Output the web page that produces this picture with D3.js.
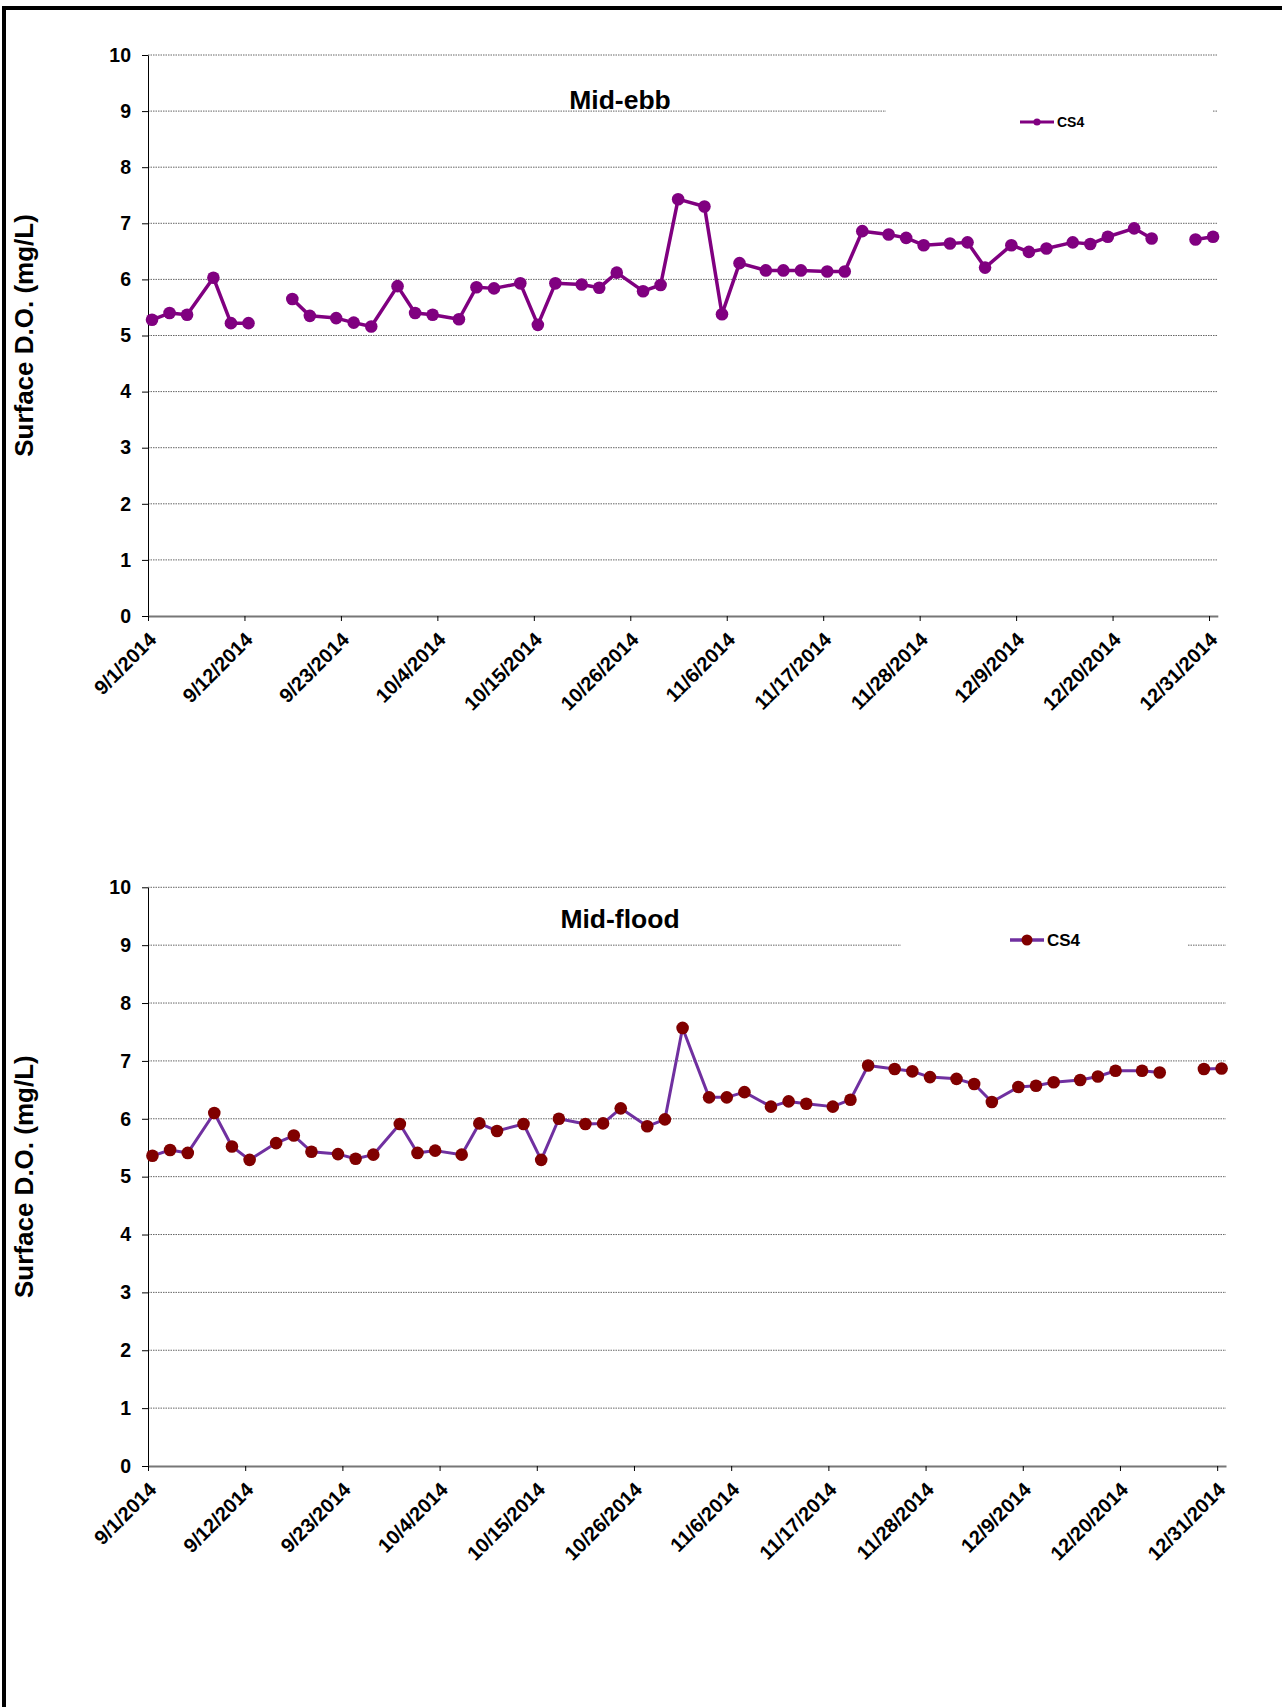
<!DOCTYPE html>
<html>
<head>
<meta charset="utf-8">
<script src="https://cdn.jsdelivr.net/npm/d3@7"></script>
<style>
  body { margin: 0; background: #fff; }
  svg text { font-family: "Liberation Sans", Arial, sans-serif; font-weight: bold; fill: #000; }
</style>
</head>
<body>
<div id="chart"></div>
<script>
// sampling days (Mon/Wed/Fri), 2014
var sampleDates = ["9/1", "9/3", "9/5", "9/8", "9/10", "9/12", "9/15", "9/17", "9/19", "9/22", "9/24", "9/26",
  "9/29", "10/1", "10/3", "10/6", "10/8", "10/10", "10/13", "10/15", "10/17", "10/20", "10/22", "10/24",
  "10/27", "10/29", "10/31", "11/3", "11/5", "11/7", "11/10", "11/12", "11/14", "11/17", "11/19", "11/21",
  "11/24", "11/26", "11/28", "12/1", "12/3", "12/5", "12/8", "12/10", "12/12", "12/15", "12/17", "12/19",
  "12/22", "12/24", "12/26", "12/29", "12/31"];

// surface D.O. (mg/L), null = no sample
var ebbValues = [5.28, 5.40, 5.37, 6.03, 5.22, 5.22, null, 5.65, 5.35, 5.31, 5.23, 5.16,
  5.88, 5.40, 5.37, 5.29, 5.86, 5.84, 5.93, 5.19, 5.93, 5.91, 5.85, 6.12,
  5.79, 5.90, 7.43, 7.30, 5.38, 6.29, 6.16, 6.16, 6.16, 6.14, 6.14, 6.86,
  6.80, 6.74, 6.61, 6.64, 6.66, 6.21, 6.61, 6.49, 6.55, 6.66, 6.63, 6.76,
  6.91, 6.73, null, 6.71, 6.76];

var floodValues = [5.36, 5.46, 5.41, 6.10, 5.52, 5.29, 5.58, 5.71, 5.43, 5.39, 5.31, 5.38,
  5.91, 5.41, 5.45, 5.38, 5.92, 5.79, 5.91, 5.29, 6.00, 5.91, 5.92, 6.18,
  5.87, 5.99, 7.57, 6.37, 6.37, 6.46, 6.21, 6.30, 6.26, 6.21, 6.33, 6.92,
  6.86, 6.82, 6.72, 6.69, 6.60, 6.29, 6.55, 6.57, 6.63, 6.67, 6.73, 6.83,
  6.83, 6.80, null, 6.86, 6.87];

// approx. hour of day of the mid-ebb / mid-flood samples
var ebbHour = 11;
var floodHour = 12;

var xTickLabels = ["9/1/2014", "9/12/2014", "9/23/2014", "10/4/2014", "10/15/2014", "10/26/2014",
  "11/6/2014", "11/17/2014", "11/28/2014", "12/9/2014", "12/20/2014", "12/31/2014"];
var yTicks = [0, 1, 2, 3, 4, 5, 6, 7, 8, 9, 10];
var xDomain = ["9/1/2014", "1/1/2015"];

var seriesName = "CS4";
var yTitle = "Surface D.O. (mg/L)";

var svgWidth = 1282;
var svgHeight = 1707;

var parseLabel = d3.timeParse("%-m/%-d/%Y");

var svg = d3.select("#chart")
  .append("svg")
  .attr("width", svgWidth)
  .attr("height", svgHeight);

// page frame (top + left edges)
svg.append("rect").attr("x", 2).attr("y", 6).attr("width", 1280).attr("height", 4).attr("fill", "#000");
svg.append("rect").attr("x", 2).attr("y", 6).attr("width", 4).attr("height", 1701).attr("fill", "#000");

var charts = [
  {
    title: "Mid-ebb", values: ebbValues, hour: ebbHour,
    left: 148, right: 1217.8, top: 55, bottom: 616,
    titleY: 109,
    lineColor: "#800080", markerColor: "#800080", lineWidth: 3.5, r: 6.3,
    legend: { box: [886, 98, 327, 38], x: 1020, y: 122, w: 34, r: 3.6, font: 14, lw: 3 }
  },
  {
    title: "Mid-flood", values: floodValues, hour: floodHour,
    left: 148, right: 1226, top: 887.3, bottom: 1466,
    titleY: 928,
    lineColor: "#7030A0", markerColor: "#800000", lineWidth: 3, r: 6.3,
    legend: { box: [901, 925, 286, 38], x: 1010, y: 940, w: 34, r: 5.5, font: 17, lw: 3.5 }
  }
];

charts.forEach(function (c) {
  var g = svg.append("g");

  var xScale = d3.scaleTime()
    .domain(xDomain.map(parseLabel))
    .range([c.left, c.right]);
  var yScale = d3.scaleLinear()
    .domain([0, 10])
    .range([c.bottom, c.top]);

  var data = sampleDates.map(function (d, i) {
    var dt = parseLabel(d + "/2014");
    dt.setHours(c.hour);
    return { date: dt, value: c.values[i] };
  });

  // gridlines
  g.selectAll(".grid")
    .data(yTicks.filter(function (t) { return t > 0; }))
    .enter()
    .append("line")
    .attr("x1", c.left)
    .attr("x2", c.right)
    .attr("y1", function (d) { return yScale(d); })
    .attr("y2", function (d) { return yScale(d); })
    .attr("stroke", "#666")
    .attr("stroke-width", 1)
    .attr("stroke-dasharray", "1.5,1");

  // y axis
  var yAxis = d3.axisLeft(yScale).tickValues(yTicks).tickSize(6).tickPadding(11).tickSizeOuter(0);
  var yg = g.append("g")
    .attr("transform", `translate(${c.left}, 0)`)
    .call(yAxis);
  yg.select(".domain").attr("stroke", "#000").attr("stroke-width", 1);
  yg.selectAll(".tick line").attr("stroke", "#000");
  yg.selectAll(".tick text").attr("font-size", "19.5px");

  // x axis
  var xAxis = d3.axisBottom(xScale)
    .tickValues(xTickLabels.map(parseLabel))
    .tickFormat(function (d, i) { return xTickLabels[i]; })
    .tickSize(5)
    .tickSizeOuter(0);
  var xg = g.append("g")
    .attr("transform", `translate(0, ${c.bottom})`)
    .call(xAxis);
  xg.select(".domain").attr("stroke", "#777").attr("stroke-width", 2);
  xg.selectAll(".tick line").attr("stroke", "#000");
  xg.selectAll(".tick text")
    .attr("font-size", "20px")
    .attr("x", 0)
    .attr("y", 0)
    .attr("dy", 0)
    .attr("text-anchor", "end")
    .attr("transform", "translate(9, 25) rotate(-45)");

  // legend box (white, hides gridline behind it)
  g.append("rect")
    .attr("x", c.legend.box[0])
    .attr("y", c.legend.box[1])
    .attr("width", c.legend.box[2])
    .attr("height", c.legend.box[3])
    .attr("fill", "#fff");

  // series line
  var line = d3.line()
    .defined(function (d) { return d.value !== null; })
    .x(function (d) { return xScale(d.date); })
    .y(function (d) { return yScale(d.value); });

  g.append("path")
    .datum(data)
    .attr("d", line)
    .attr("fill", "none")
    .attr("stroke", c.lineColor)
    .attr("stroke-width", c.lineWidth)
    .attr("stroke-linejoin", "round");

  g.selectAll(".pt")
    .data(data.filter(function (d) { return d.value !== null; }))
    .enter()
    .append("circle")
    .attr("cx", function (d) { return xScale(d.date); })
    .attr("cy", function (d) { return yScale(d.value); })
    .attr("r", c.r)
    .attr("fill", c.markerColor);

  // title
  g.append("text")
    .attr("x", 620)
    .attr("y", c.titleY)
    .attr("text-anchor", "middle")
    .attr("font-size", "26.5px")
    .text(c.title);

  // legend
  g.append("line")
    .attr("x1", c.legend.x)
    .attr("x2", c.legend.x + c.legend.w)
    .attr("y1", c.legend.y)
    .attr("y2", c.legend.y)
    .attr("stroke", c.lineColor)
    .attr("stroke-width", c.legend.lw);
  g.append("circle")
    .attr("cx", c.legend.x + c.legend.w / 2)
    .attr("cy", c.legend.y)
    .attr("r", c.legend.r)
    .attr("fill", c.markerColor);
  g.append("text")
    .attr("x", c.legend.x + c.legend.w + 3)
    .attr("y", c.legend.y + c.legend.font * 0.36)
    .attr("font-size", c.legend.font + "px")
    .text(seriesName);

  // y axis title
  g.append("text")
    .attr("transform", `translate(33, ${(c.top + c.bottom) / 2}) rotate(-90)`)
    .attr("text-anchor", "middle")
    .attr("font-size", "26px")
    .text(yTitle);
});
</script>
</body>
</html>
